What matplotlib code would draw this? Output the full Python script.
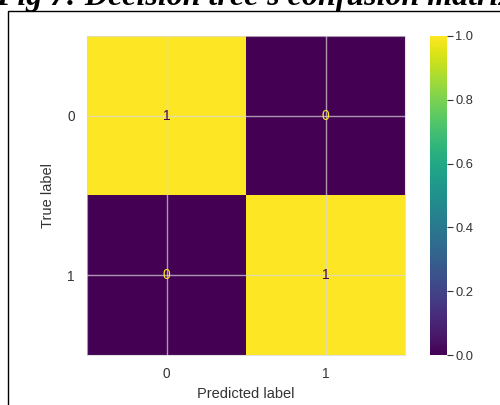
import numpy as np
import matplotlib
matplotlib.use("Agg")
import matplotlib.pyplot as plt
from matplotlib.patches import Rectangle

# data
classes = ["0", "1"]
matrix = [[1, 0],
          [0, 1]]
cbar_ticks = [0.0, 0.2, 0.4, 0.6, 0.8, 1.0]
title = "Fig 7: Decision tree's confusion matrix"

plt.rcParams['font.family'] = ['Liberation Sans', 'DejaVu Sans']
txt = '#333333'

fig = plt.figure(figsize=(5.0, 4.05), dpi=100)
W, H = 500, 405

def fx(px): return px / W
def fy(py): return 1 - py / H

# cropped caption at the top
fig.text(-0.008, fy(5), title, family='Liberation Serif', fontweight='bold',
         fontstyle='italic', fontsize=23, va='baseline', ha='left', color='black')

# frame
fig.patches.append(Rectangle((fx(8), -0.1), 1.2, fy(11) + 0.1, transform=fig.transFigure,
                             fill=False, edgecolor='black', linewidth=1.0, clip_on=False))

ax = fig.add_axes([fx(87), fy(355), fx(405) - fx(87), fy(36) - fy(355)])
cax = fig.add_axes([fx(430), fy(355), fx(447) - fx(430), fy(36) - fy(355)])

M = np.array(matrix, dtype=float)
cmap = plt.get_cmap('viridis')
im = ax.imshow(M, cmap=cmap, vmin=0, vmax=1, interpolation='nearest', aspect='auto')

for i in range(M.shape[0]):
    for j in range(M.shape[1]):
        v = M[i, j]
        col = cmap(0.0) if v > 0.5 else cmap(1.0)
        ax.text(j, i, f"{int(v)}", ha='center', va='center', color=col, fontsize=10)

ax.set_xticks(range(len(classes)))
ax.set_yticks(range(len(classes)))
ax.set_xticklabels(classes)
ax.set_yticklabels(classes)
ax.tick_params(length=0, labelsize=9.8, colors=txt, pad=9)
ax.set_xlabel("Predicted label", fontsize=10.5, color=txt, labelpad=4)
ax.set_ylabel("True label", fontsize=10.5, color=txt, labelpad=9)
ax.grid(True, color='#d8d8d8', alpha=0.7, linewidth=1.0)
ax.set_axisbelow(False)
for s in ax.spines.values():
    s.set_color('#d8d8d8')
    s.set_linewidth(0.8)
    s.set_alpha(0.7)

cb = fig.colorbar(im, cax=cax, ticks=cbar_ticks)
cb.ax.set_yticklabels([f"{t:.1f}" for t in cbar_ticks])
cb.ax.tick_params(length=4, width=0.8, labelsize=9.3, colors=txt, pad=2)
cb.outline.set_visible(False)

fig.savefig("out.png", dpi=100)
